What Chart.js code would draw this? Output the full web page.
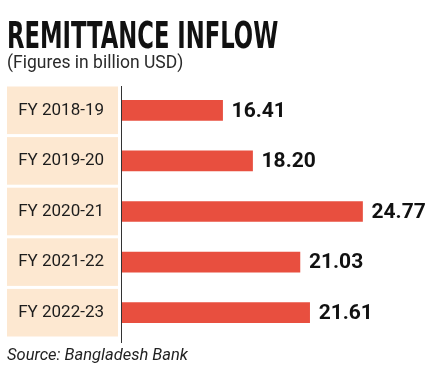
<!DOCTYPE html>
<html>
<head>
<meta charset="utf-8">
<script src="https://cdn.jsdelivr.net/npm/chart.js@4"></script>
<style>
  html, body { margin: 0; padding: 0; background: #fff; }
  #wrap { position: relative; width: 445px; height: 370px; overflow: hidden; }
  #box { position: absolute; left: 0; top: 0; width: 445px; height: 370px; }
  .txt { position: absolute; left: 7px; white-space: nowrap; line-height: 1; color: #1d1d1d; }
  #title { top: 13px; font: bold 38px "Liberation Sans Narrow", "DejaVu Sans Condensed", sans-serif; color: #111; transform-origin: 0 0; }
  #sub { top: 52px; font: 17.5px Roboto, sans-serif; color: #2a2a2a; }
  #src { top: 345px; font: italic 16.5px Roboto, sans-serif; color: #222; }
</style>
</head>
<body>
<div id="wrap">
  <div id="box"><canvas id="c"></canvas></div>
  <div class="txt" id="title">REMITTANCE INFLOW</div>
  <div class="txt" id="sub">(Figures in billion USD)</div>
  <div class="txt" id="src">Source: Bangladesh Bank</div>
</div>
<script>
const years = ['FY 2018-19', 'FY 2019-20', 'FY 2020-21', 'FY 2021-22', 'FY 2022-23'];
const inflow = [16.41, 18.20, 24.77, 21.03, 21.61];
const barColor = '#e84f3f';
const cellColor = '#fde8d1';

// squeeze the heavy title to the width it has in the print graphic
const t = document.getElementById('title');
t.style.transform = 'scaleX(' + (271 / t.scrollWidth) + ')';

// peach label cells + axis rule
const cells = {
    id: 'cells',
    beforeDraw(chart) {
        const {ctx, chartArea, scales: {y}} = chart;
        const band = (chartArea.bottom - chartArea.top) / years.length;
        ctx.save();
        ctx.fillStyle = cellColor;
        years.forEach((_, i) => {
            const mid = y.getPixelForValue(i);
            ctx.fillRect(7, mid - band / 2 + 1.5, 111, band - 3);
        });
        ctx.strokeStyle = '#333';
        ctx.lineWidth = 1;
        ctx.beginPath();
        ctx.moveTo(chartArea.left - 0.5, chartArea.top + 1);
        ctx.lineTo(chartArea.left - 0.5, chartArea.bottom + 5);
        ctx.stroke();
        ctx.restore();
    }
};

// value next to each bar
const values = {
    id: 'values',
    afterDatasetsDraw(chart) {
        const {ctx} = chart;
        const meta = chart.getDatasetMeta(0);
        ctx.save();
        ctx.fillStyle = '#111';
        ctx.font = 'bold 21px Roboto';
        ctx.textAlign = 'left';
        ctx.textBaseline = 'middle';
        meta.data.forEach((bar, i) => {
            ctx.fillText(inflow[i].toFixed(2), bar.x + 9, bar.y + 1);
        });
        ctx.restore();
    }
};

new Chart(document.getElementById('c'), {
    type: 'bar',
    data: {
        labels: years,
        datasets: [{
            data: inflow,
            backgroundColor: barColor,
            barThickness: 20,
            borderWidth: 0
        }]
    },
    options: {
        indexAxis: 'y',
        responsive: true,
        maintainAspectRatio: false,
        animation: false,
        layout: { padding: { top: 85, bottom: 32, left: 0, right: 10 } },
        plugins: { legend: { display: false }, tooltip: { enabled: false } },
        scales: {
            x: { display: false, min: 10.4, max: 29.1 },
            y: {
                afterFit(scale) { scale.width = 122; },
                grid: { display: false },
                border: { display: false },
                ticks: {
                    padding: 10,
                    color: '#1d1d1d',
                    font: { family: 'Roboto', size: 17 }
                }
            }
        }
    },
    plugins: [cells, values]
});
</script>
</body>
</html>
